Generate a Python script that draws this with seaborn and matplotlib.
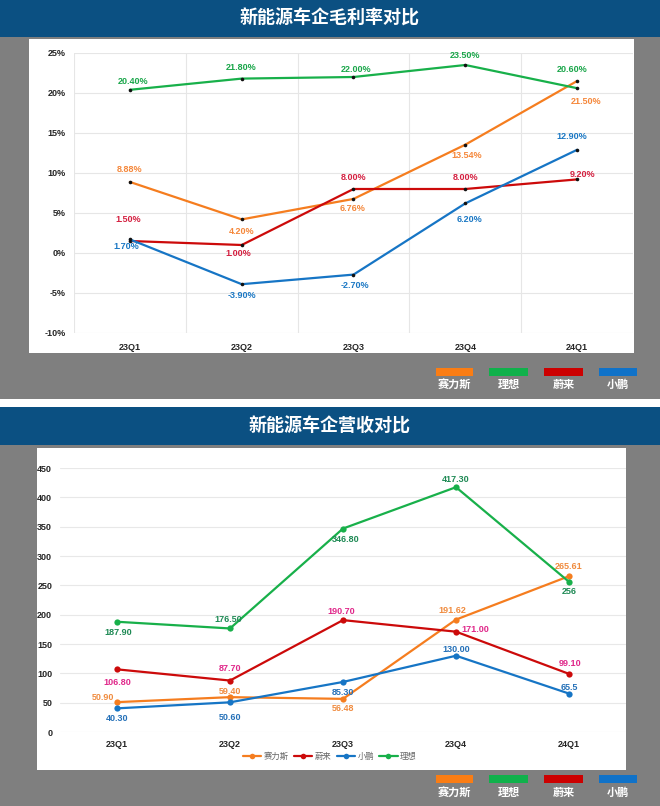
import matplotlib
matplotlib.use("Agg")
import matplotlib.pyplot as plt
from matplotlib.patches import Rectangle
from matplotlib.lines import Line2D
import pandas as pd
import seaborn as sns

# data
quarters = ["23Q1", "23Q2", "23Q3", "23Q4", "24Q1"]
brands = ["赛力斯", "理想", "蔚来", "小鹏"]

# gross margin, %
margin_seres = [8.88, 4.20, 6.76, 13.54, 21.50]
margin_li = [20.40, 21.80, 22.00, 23.50, 20.60]
margin_nio = [1.50, 1.00, 8.00, 8.00, 9.20]
margin_xpeng = [1.70, -3.90, -2.70, 6.20, 12.90]

# revenue
rev_seres = [50.90, 59.40, 56.48, 191.62, 265.61]
rev_nio = [106.80, 87.70, 190.70, 171.00, 99.10]
rev_xpeng = [40.30, 50.60, 85.30, 130.00, 65.5]
rev_li = [187.90, 176.50, 346.80, 417.30, 256]
rev_seres_txt = ["50.90", "59.40", "56.48", "191.62", "265.61"]
rev_nio_txt = ["106.80", "87.70", "190.70", "171.00", "99.10"]
rev_xpeng_txt = ["40.30", "50.60", "85.30", "130.00", "65.5"]
rev_li_txt = ["187.90", "176.50", "346.80", "417.30", "256"]

sns.set_theme(style="white")
plt.rcParams['font.family'] = ['Liberation Sans', 'Noto Sans CJK SC', 'DejaVu Sans']

W, H = 660, 806
line_col = {"赛力斯": "#f57d1f", "理想": "#18b04a", "蔚来": "#cc0a0a", "小鹏": "#1675c5"}
box_col = {"赛力斯": "#fa7d14", "理想": "#10b14b", "蔚来": "#cc0000", "小鹏": "#1072c8"}
navy = "#0b5082"
gray = "#7f7f7f"


def fbox(x0, y0, x1, y1):
    # pixel box (top-left origin) -> figure fraction
    return [x0 / W, 1 - y1 / H, (x1 - x0) / W, (y1 - y0) / H]


fig = plt.figure(figsize=(6.6, 8.06), dpi=100)
fig.patch.set_facecolor("white")


def rect(x0, y0, x1, y1, color):
    b = fbox(x0, y0, x1, y1)
    fig.add_artist(Rectangle((b[0], b[1]), b[2], b[3], transform=fig.transFigure,
                             facecolor=color, edgecolor="none", zorder=-5))


# backgrounds
rect(0, 0, 660, 37, navy)
rect(0, 37, 660, 399, gray)
rect(0, 407, 660, 445, navy)
rect(0, 445, 660, 806, gray)
rect(29, 39, 634, 353, "white")
rect(37, 448, 626, 770, "white")

fig.text(0.5, 1 - 18 / H, "新能源车企毛利率对比", color="white", fontsize=13,
         fontweight="bold", ha="center", va="center", family=['Noto Sans CJK SC'])
fig.text(0.5, 1 - 426 / H, "新能源车企营收对比", color="white", fontsize=13,
         fontweight="bold", ha="center", va="center", family=['Noto Sans CJK SC'])


def color_legend(y_box, y_txt):
    xs = [(436, 473), (489, 528), (544, 583), (599, 637)]
    for (x0, x1), b in zip(xs, brands):
        rect(x0, y_box, x1, y_box + 8, box_col[b])
        fig.text((x0 + x1) / 2 / W, 1 - y_txt / H, b, color="white", fontsize=8,
                 fontweight="bold", ha="center", va="center")


color_legend(368, 385)
color_legend(775, 793)

# ---------------- top chart: gross margin ----------------
df_m = pd.DataFrame({
    "季度": quarters * 4,
    "公司": [b for b in ["赛力斯", "理想", "蔚来", "小鹏"] for _ in quarters],
    "毛利率": margin_seres + margin_li + margin_nio + margin_xpeng,
})

ax1 = fig.add_axes(fbox(74, 53, 633, 333))
ax1.set_facecolor("white")
sns.lineplot(data=df_m, x="季度", y="毛利率", hue="公司", hue_order=brands,
             palette=line_col, ax=ax1, sort=False, legend=False, lw=1.6,
             marker="o", markersize=2.6, markerfacecolor="#111111",
             markeredgecolor="#111111", markeredgewidth=0)

ax1.set_xlim(-0.5, 4.5)
ax1.set_ylim(-10, 25)
yt = list(range(-10, 30, 5))
ax1.set_yticks(yt)
ax1.set_yticklabels([f"{t}%" for t in yt], fontsize=6.5, fontweight="bold")
ax1.set_xticks(range(5))
ax1.set_xticklabels(quarters, fontsize=6.5, fontweight="bold")
ax1.set_xticks([i - 0.5 for i in range(6)], minor=True)
ax1.tick_params(axis="both", which="both", length=0)
ax1.tick_params(axis="y", pad=6)
ax1.tick_params(axis="x", pad=7)
ax1.grid(True, axis="y", which="major", color="#e6e6e6", lw=0.8)
ax1.grid(True, axis="x", which="minor", color="#e6e6e6", lw=0.8)
ax1.grid(False, axis="x", which="major")
for s in ax1.spines.values():
    s.set_visible(False)
ax1.set_xlabel("")
ax1.set_ylabel("")

top_txt_col = {"赛力斯": "#f5873a", "理想": "#1aa64a", "蔚来": "#d42040", "小鹏": "#1b78c4"}
top_off = {
    "赛力斯": [(0, -12), (0, 12), (-1, 10), (1, 11), (9, 21)],
    "理想": [(3, -8), (-1, -11), (3, -8), (0, -10), (-5, -19)],
    "蔚来": [(-2, -21), (-3, 8), (0, -12), (0, -12), (5, -5)],
    "小鹏": [(-4, 7), (0, 11), (1, 11), (4, 16), (-5, -13)],
}
for b, vals in zip(brands, [margin_seres, margin_li, margin_nio, margin_xpeng]):
    for i, v in enumerate(vals):
        dx, dy = top_off[b][i]
        ax1.annotate(f"{v:.2f}%", (i, v), xytext=(dx, -dy), textcoords="offset pixels",
                     ha="center", va="center", fontsize=6.5, fontweight="bold",
                     color=top_txt_col[b])

# ---------------- bottom chart: revenue ----------------
order2 = ["赛力斯", "蔚来", "小鹏", "理想"]
df_r = pd.DataFrame({
    "季度": quarters * 4,
    "公司": [b for b in order2 for _ in quarters],
    "营收": rev_seres + rev_nio + rev_xpeng + rev_li,
})

ax2 = fig.add_axes(fbox(60.5, 468, 625.5, 732))
ax2.set_facecolor("white")
sns.lineplot(data=df_r, x="季度", y="营收", hue="公司", hue_order=order2,
             palette=line_col, ax=ax2, sort=False, legend=False, lw=1.6,
             marker="o", markersize=4.5, markeredgewidth=0)
ax2.set_xlim(-0.5, 4.5)
ax2.set_ylim(0, 450)
ax2.set_yticks(list(range(0, 500, 50)))
ax2.set_yticklabels([str(t) for t in range(0, 500, 50)], fontsize=6.5, fontweight="bold")
ax2.set_xticks(range(5))
ax2.set_xticklabels(quarters, fontsize=6.5, fontweight="bold")
ax2.tick_params(axis="both", length=0)
ax2.tick_params(axis="y", pad=6)
ax2.tick_params(axis="x", pad=6)
ax2.grid(True, axis="y", color="#e8e8e8", lw=0.8)
ax2.grid(False, axis="x")
for s in ax2.spines.values():
    s.set_visible(False)
ax2.set_xlabel("")
ax2.set_ylabel("")

bot_txt_col = {"赛力斯": "#f08b3e", "蔚来": "#e0288a", "小鹏": "#2470b8", "理想": "#1f8a55"}
bot_off = {
    "赛力斯": [(-14, -5), (0, -6), (0, 10), (-4, -9), (0, -10)],
    "蔚来": [(0, 13), (0, -12), (-2, -9), (19, -2), (1, -10)],
    "小鹏": [(0, 10), (0, 15), (0, 11), (0, -6), (0, -6)],
    "理想": [(1, 11), (-2, -9), (3, 11), (0, -8), (0, 10)],
}
for b, vals, txts in zip(order2, [rev_seres, rev_nio, rev_xpeng, rev_li],
                         [rev_seres_txt, rev_nio_txt, rev_xpeng_txt, rev_li_txt]):
    for i, (v, t) in enumerate(zip(vals, txts)):
        dx, dy = bot_off[b][i]
        ax2.annotate(t, (i, v), xytext=(dx, -dy), textcoords="offset pixels",
                     ha="center", va="center", fontsize=6.5, fontweight="bold",
                     color=bot_txt_col[b])

handles = [Line2D([0], [0], color=line_col[b], lw=1.6, marker="o", markersize=4,
                  markeredgewidth=0) for b in order2]
fig.legend(handles, order2, loc="center", bbox_to_anchor=(330 / W, 1 - 757 / H),
           ncol=4, frameon=False, fontsize=6, labelcolor="#666666",
           handlelength=2.2, handletextpad=0.3, columnspacing=0.6)

plt.savefig("out.png", dpi=100)
